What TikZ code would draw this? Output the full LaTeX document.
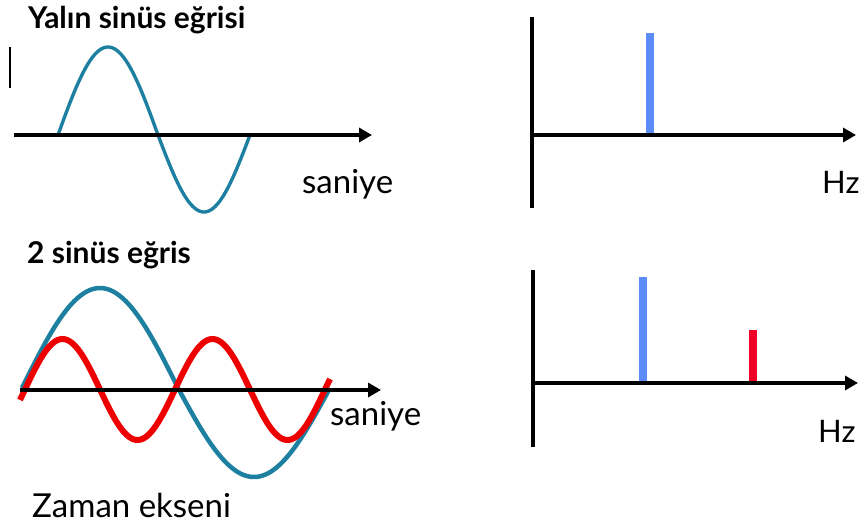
\documentclass[tikz,border=0pt]{standalone}
\usepackage{fontspec}
\setmainfont{Lato}
\usetikzlibrary{arrows.meta}
\definecolor{wblue}{RGB}{30,128,160}
\definecolor{wred}{RGB}{238,0,0}
\definecolor{bblue}{RGB}{92,140,250}
\definecolor{bred}{RGB}{240,0,40}
\begin{document}
\begin{tikzpicture}[x=1pt,y=-1pt,
  axis/.style={line width=4pt,-{Triangle[length=13pt,width=14pt]}},
  vaxis/.style={line width=4pt},
  title/.style={anchor=base west,inner sep=0pt,font=\fontsize{30}{30}\selectfont\bfseries},
  lbl/.style={anchor=base west,inner sep=0pt,font=\fontsize{33}{33}\selectfont},
  hz/.style={anchor=base west,inner sep=0pt,font=\fontsize{31}{31}\selectfont},
  bar/.style={line width=8pt}]
\useasboundingbox (0,0) rectangle (865,530);
% ---------- top left ----------
\node[title] (t1) at (28,28) {Yalın sinüs eğrisi};
\draw[line width=2.5pt] (10,47) -- (10,88);
\draw[wblue,line width=3.4pt]
  plot[domain=58:158,samples=60] (\x,{135-88*sin(1.8*(\x-58))})
  -- plot[domain=158:250,samples=60] (\x,{135+77*sin((180/92)*(\x-158))});
\coordinate (a1s) at (14,135);
\coordinate (a1e) at (372,135);
\draw[axis] (a1s) -- (a1e);
\node[lbl] (s1) at (302,193) {saniye};
% ---------- top right ----------
\coordinate (v1t) at (532,17);
\coordinate (v1b) at (532,208);
\coordinate (h1s) at (532,135);
\coordinate (h1e) at (856,135);
\coordinate (b1t) at (650,33);
\coordinate (b1b) at (650,133);
\draw[bar,bblue] (b1b) -- (b1t);
\draw[vaxis] (v1t) -- (v1b);
\draw[axis] (h1s) -- (h1e);
\node[hz] (hz1) at (822,193) {Hz};
% ---------- bottom left ----------
\node[title] (t2) at (27,263) {2 sinüs eğris};
\draw[wblue,line width=4.5pt]
  plot[domain=22:178,samples=70] (\x,{388-100*sin((180/156)*(\x-22))})
  -- plot[domain=178:330,samples=70] (\x,{388+89*sin((180/152)*(\x-178))});
\draw[wred,line width=6pt]
  plot[domain=20:330,samples=140] (\x,{389.5-50.5*sin(2.4*(\x-25))});
\coordinate (a2s) at (20,390);
\coordinate (a2e) at (381,390);
\draw[axis] (a2s) -- (a2e);
\node[lbl] (s2) at (330,425) {saniye};
\node[lbl] (z) at (32,517) {Zaman ekseni};
% ---------- bottom right ----------
\coordinate (v2t) at (533,270);
\coordinate (v2b) at (533,447);
\coordinate (h2s) at (533,383);
\coordinate (h2e) at (858,383);
\coordinate (b2t) at (643,277);
\coordinate (b2b) at (643,381);
\coordinate (b3t) at (753,330);
\coordinate (b3b) at (753,381);
\draw[bar,bblue] (b2b) -- (b2t);
\draw[bar,bred] (b3b) -- (b3t);
\draw[vaxis] (v2t) -- (v2b);
\draw[axis] (h2s) -- (h2e);
\node[hz] (hz2) at (818,442) {Hz};
\end{tikzpicture}
\end{document}
